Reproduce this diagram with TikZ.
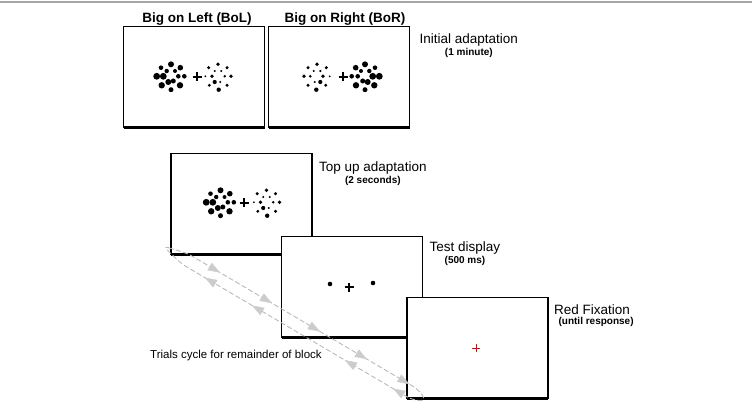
\documentclass[tikz,border=0pt]{standalone}
\usepackage{fontspec}
\setmainfont{Liberation Sans}
\usetikzlibrary{positioning,arrows.meta,decorations.markings}

\begin{document}
\begin{tikzpicture}[x=1pt, y=-1pt,
    screen/.style={draw, fill=white, line width=1.3pt, minimum width=141pt, minimum height=101pt, inner sep=0pt, outer sep=0pt},
    screenshadow/.style={line width=3pt},
    screentitle/.style={font=\fontsize{13.5}{15}\selectfont\bfseries, inner sep=0pt},
    phaselabel/.style={font=\fontsize{13.5}{15}\selectfont, inner sep=0pt, anchor=north west},
    phasetime/.style={font=\fontsize{10}{12}\selectfont\bfseries, inner sep=0pt},
    looptrack/.style={gray!55, line width=0.9pt, dash pattern=on 5pt off 2.5pt},
    loophead/.tip={Triangle[length=12pt, width=8.5pt]},
    bigdots/.pic={
      \foreach \dx/\dy/\r in {0/-12.7/3.0, -10/-9.3/2.3, 9.3/-9.3/2.8, -4.3/-6/2.2, 4/-6/2.0,
          -14.3/-0.7/3.4, -7.7/-0.7/3.4, 7.3/-0.7/2.3, 13.3/-0.7/2.3, -2.7/5/3.0, 2.3/4/2.5,
          -9.3/8.3/3.2, 9/8.3/3.2, 0/12.7/2.5}
        \fill (\dx,\dy) circle (\r pt);
    },
    smalldots/.pic={
      \foreach \dx/\dy/\r in {0/-12.7/1.9, -9.3/-9.3/1.7, 9/-9.3/1.7, -3.3/-6/1.2, 3.3/-6/1.1,
          -12.7/-0.7/1.0, -6/-0.7/1.9, 6.7/-0.7/1.4, 13/-0.7/1.9, -3.3/5/2.1, 2.3/5/1.1,
          -8.7/8.3/1.6, 9/8.3/1.7, 0.7/12.7/2.2}
        \fill (\dx,\dy) circle (\r pt);
    },
    fixcross/.pic={
      \draw[line width=1.5pt] (-4.5,0) -- (4.5,0) (0,-4.5) -- (0,4.5);
    }
    ]
    \useasboundingbox (0,0) rectangle (752,414);

    % rule along the top
    \draw[gray!70, line width=1.5pt] (0,2) -- (752,2);

    % initial adaptation
    \node[screen] (bol) at (194,77) {};
    \draw[screenshadow] (bol.south west) -- (bol.south east);
    \node[screen] (bor) at (339,77) {};
    \draw[screenshadow] (bor.south west) -- (bor.south east);

    \pic at ([xshift=-23pt]bol.center) {bigdots};
    \pic at ([xshift=3pt]bol.center) {fixcross};
    \pic at ([xshift=24pt]bol.center) {smalldots};

    \pic[xscale=-1] at ([xshift=-22pt]bor.center) {smalldots};
    \pic at ([xshift=4pt]bor.center) {fixcross};
    \pic[xscale=-1] at ([xshift=26pt]bor.center) {bigdots};

    \node[screentitle, above=1pt of bol, xshift=3pt] (boltitle) {Big on Left (BoL)};
    \node[screentitle, above=1pt of bor, xshift=6pt] (bortitle) {Big on Right (BoR)};

    \node[phaselabel] (initlab) at ([xshift=10pt, yshift=-7pt]bor.north east) {Initial adaptation};
    \node[phasetime, below=1.5pt of initlab] (inittime) {(1 minute)};

    % trial sequence
    \node[screen] (topup) at (241.5,204) {};
    \draw[screenshadow] (topup.south west) -- (topup.south east);
    \pic at ([xshift=-21pt, yshift=1pt]topup.center) {bigdots};
    \pic at ([xshift=2.5pt, yshift=1pt]topup.center) {fixcross};
    \pic at ([xshift=25pt, yshift=1pt]topup.center) {smalldots};

    \node[screen] (test) at (352,287) {};
    \draw[screenshadow] (test.south west) -- (test.south east);
    \fill ([xshift=-22pt, yshift=3pt]test.center) circle (2.3pt);
    \fill ([xshift=21pt, yshift=4pt]test.center) circle (2.3pt);
    \pic at ([xshift=-3pt]test.center) {fixcross};

    \node[screen] (redfix) at (477.5,348) {};
    \draw[screenshadow] (redfix.south west) -- (redfix.south east);
    \draw[red, line width=0.9pt] ([xshift=-5.5pt]redfix.center) -- ([xshift=2.5pt]redfix.center)
      ([xshift=-1.5pt, yshift=4pt]redfix.center) -- ([xshift=-1.5pt, yshift=-4pt]redfix.center);

    \node[phaselabel] (topuplab) at ([xshift=7pt, yshift=-8.5pt]topup.north east) {Top up adaptation};
    \node[phasetime, below=1.5pt of topuplab] (topuptime) {(2 seconds)};
    \node[phaselabel] (testlab) at ([xshift=7pt, yshift=-5pt]test.north east) {Test display};
    \node[phasetime, below=1.5pt of testlab] (testtime) {(500 ms)};
    \node[phaselabel] (redlab) at ([xshift=6pt, yshift=-7.5pt]redfix.north east) {Red Fixation};
    \node[phasetime, below=1.5pt of redlab, xshift=4pt] (redtime) {(until response)};

    % cycle back to the top up screen
    \coordinate (A) at (163,246);
    \coordinate (U1) at (187.6,253.5);
    \coordinate (U2) at (418.7,389.7);
    \coordinate (B) at (426,401);
    \coordinate (L2) at (412.7,400.1);
    \coordinate (L1) at (181.6,263.9);
    \draw[looptrack, rounded corners=6pt] (A) -- (U1) -- (U2) -- (B) -- (L2) -- (L1) -- cycle;
    \path[gray!40, postaction={decorate}, decoration={markings,
        mark=at position 0.14 with {\arrow{loophead}},
        mark=at position 0.365 with {\arrow{loophead}},
        mark=at position 0.573 with {\arrow{loophead}},
        mark=at position 0.776 with {\arrow{loophead}},
        mark=at position 0.96 with {\arrow{loophead}}}] (U1) -- (U2);
    \path[gray!40, postaction={decorate}, decoration={markings,
        mark=at position 0.085 with {\arrow{loophead}},
        mark=at position 0.293 with {\arrow{loophead}},
        mark=at position 0.695 with {\arrow{loophead}},
        mark=at position 0.899 with {\arrow{loophead}}}] (L2) -- (L1);

    \node[font=\fontsize{11.5}{13}\selectfont, inner sep=0pt, anchor=west] (trials) at (150,356) {Trials cycle for remainder of block};
  \end{tikzpicture}
\end{document}
